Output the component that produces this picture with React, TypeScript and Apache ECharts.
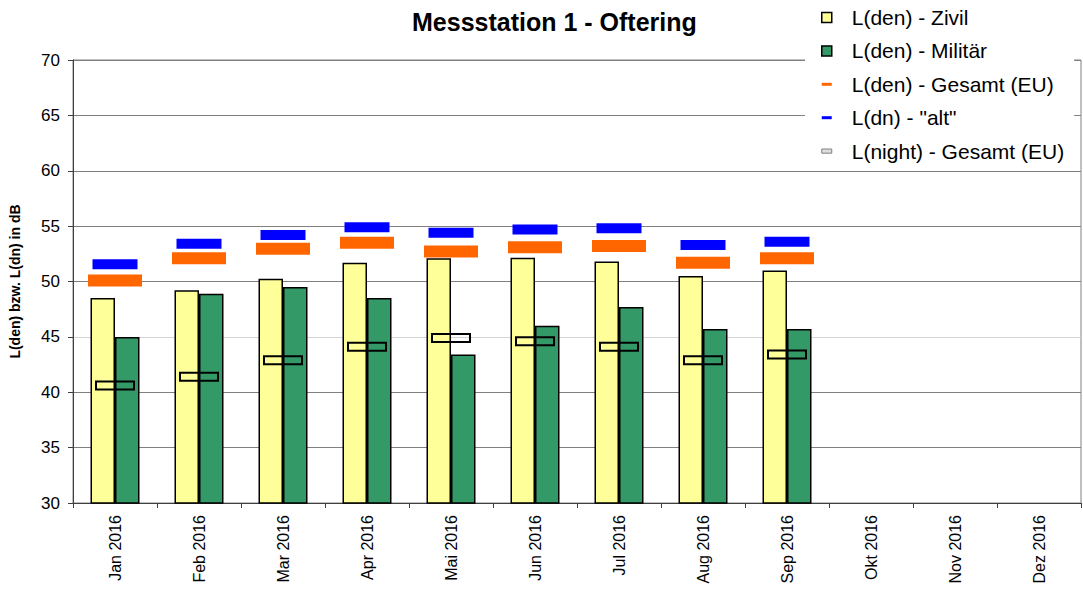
import React, { useEffect, useRef } from "react";
import * as echarts from "echarts";

const months = ["Jan 2016", "Feb 2016", "Mar 2016", "Apr 2016", "Mai 2016", "Jun 2016", "Jul 2016", "Aug 2016", "Sep 2016", "Okt 2016", "Nov 2016", "Dez 2016"];
const zivil = [48.5, 49.2, 50.25, 51.7, 52.1, 52.15, 51.8, 50.5, 51.0, null, null, null];
const militaer = [45.0, 48.9, 49.5, 48.5, 43.4, 46.0, 47.7, 45.7, 45.7, null, null, null];
const gesamtEU = [50.1, 52.1, 52.95, 53.5, 52.7, 53.1, 53.2, 51.7, 52.1, null, null, null];
const altDn = [51.55, 53.4, 54.2, 54.9, 54.4, 54.7, 54.8, 53.3, 53.6, null, null, null];
const nightEU = [40.6, 41.4, 42.9, 44.1, 44.9, 44.6, 44.1, 42.9, 43.4, null, null, null];
const yTicks = { min: 30, max: 70, interval: 5 };

const FONT = 'Arial, "Liberation Sans", sans-serif';

export default function App() {
  const ref = useRef<HTMLDivElement>(null);
  useEffect(() => {
    if (!ref.current) return;
    const chart = echarts.init(ref.current, undefined, { renderer: "svg" });
    const gridColors = ["#808080", "#808080", "#808080", "#d4d4d4", "#808080", "#808080", "#808080", "#808080", "#808080"];
    const nightData = nightEU
      .map((v, i) => (v == null ? null : [i, v]))
      .filter((d) => d !== null);
    chart.setOption({
      animation: false,
      backgroundColor: "#ffffff",
      textStyle: { fontFamily: FONT },
      title: {
        text: "Messstation 1 - Oftering",
        left: 412,
        top: 9,
        padding: 0,
        textStyle: { fontFamily: FONT, fontSize: 25, fontWeight: "bold", color: "#000" },
      },
      legend: {
        orient: "vertical",
        left: 805,
        top: 2,
        padding: [5, 10, 5, 16],
        itemGap: 12.4,
        itemWidth: 10,
        itemHeight: 10,
        backgroundColor: "#ffffff",
        selectedMode: false,
        textStyle: { fontFamily: FONT, fontSize: 21, color: "#000", lineHeight: 20, padding: [0, 0, 0, 15] },
        data: [
          { name: "L(den) - Zivil", icon: "rect", itemStyle: { color: "#FFFF99", borderColor: "#000", borderWidth: 1.5 } },
          { name: "L(den) - Militär", icon: "rect", itemStyle: { color: "#339966", borderColor: "#000", borderWidth: 1.5 } },
          { name: "L(den) - Gesamt (EU)", icon: "path://M0,0h10v3h-10z", itemStyle: { color: "#FF6600", borderWidth: 0 } },
          { name: 'L(dn) - "alt"', icon: "path://M0,0h10v3h-10z", itemStyle: { color: "#0000FF", borderWidth: 0 } },
          { name: "L(night) - Gesamt (EU)", icon: "path://M0,0h12v5h-12z", itemStyle: { color: "#dddddd", borderColor: "#808080", borderWidth: 1 } },
        ],
      },
      grid: {
        left: 71,
        right: 2,
        top: 60,
        bottom: 86,
        show: true,
        borderColor: "#808080",
        borderWidth: 1,
        backgroundColor: "transparent",
      },
      xAxis: {
        type: "category",
        data: months,
        boundaryGap: true,
        axisLine: { lineStyle: { color: "#404040", width: 1 } },
        axisTick: { show: true, length: 5, lineStyle: { color: "#404040" } },
        axisLabel: { rotate: 90, fontSize: 16, margin: 12, color: "#000", fontFamily: FONT },
        splitLine: { show: false },
      },
      yAxis: {
        type: "value",
        min: yTicks.min,
        max: yTicks.max,
        interval: yTicks.interval,
        name: "L(den) bzw. L(dn) in dB",
        nameLocation: "middle",
        nameGap: 51,
        nameTextStyle: { fontFamily: FONT, fontSize: 14, fontWeight: "bold", color: "#000" },
        axisLine: { show: true, lineStyle: { color: "#404040", width: 1 } },
        axisTick: { show: true, length: 5, lineStyle: { color: "#404040" } },
        axisLabel: { fontSize: 17, margin: 13, color: "#000", fontFamily: FONT },
        splitLine: { show: true, lineStyle: { color: gridColors, width: 1 } },
      },
      series: [
        {
          name: "L(den) - Zivil",
          type: "bar",
          data: zivil,
          barWidth: 24.5,
          barGap: "0%",
          itemStyle: { color: "#FFFF99", borderColor: "#000", borderWidth: 1.5 },
          silent: true,
        },
        {
          name: "L(den) - Militär",
          type: "bar",
          data: militaer,
          barWidth: 24.5,
          barGap: "0%",
          itemStyle: { color: "#339966", borderColor: "#000", borderWidth: 1.5 },
          silent: true,
        },
        {
          name: "L(den) - Gesamt (EU)",
          type: "scatter",
          data: gesamtEU,
          symbol: "rect",
          symbolSize: [54, 12],
          itemStyle: { color: "#FF6600", opacity: 1 },
          silent: true,
          z: 3,
        },
        {
          name: 'L(dn) - "alt"',
          type: "scatter",
          data: altDn,
          symbol: "rect",
          symbolSize: [45, 10],
          itemStyle: { color: "#0000FF", opacity: 1 },
          silent: true,
          z: 3,
        },
        {
          name: "L(night) - Gesamt (EU)",
          type: "custom",
          data: nightData,
          silent: true,
          z: 3,
          renderItem: (params: any, api: any) => {
            const c = api.coord([api.value(0), api.value(1)]);
            return {
              type: "rect",
              shape: { x: c[0] - 19, y: c[1] - 4, width: 38, height: 8 },
              style: { fill: "none", stroke: "#000", lineWidth: 2 },
            };
          },
        },
      ],
    });
    return () => chart.dispose();
  }, []);
  return (
    <div
      ref={ref}
      style={{ position: "fixed", left: 0, top: 0, width: 1083, height: 589, background: "#fff" }}
    />
  );
}
